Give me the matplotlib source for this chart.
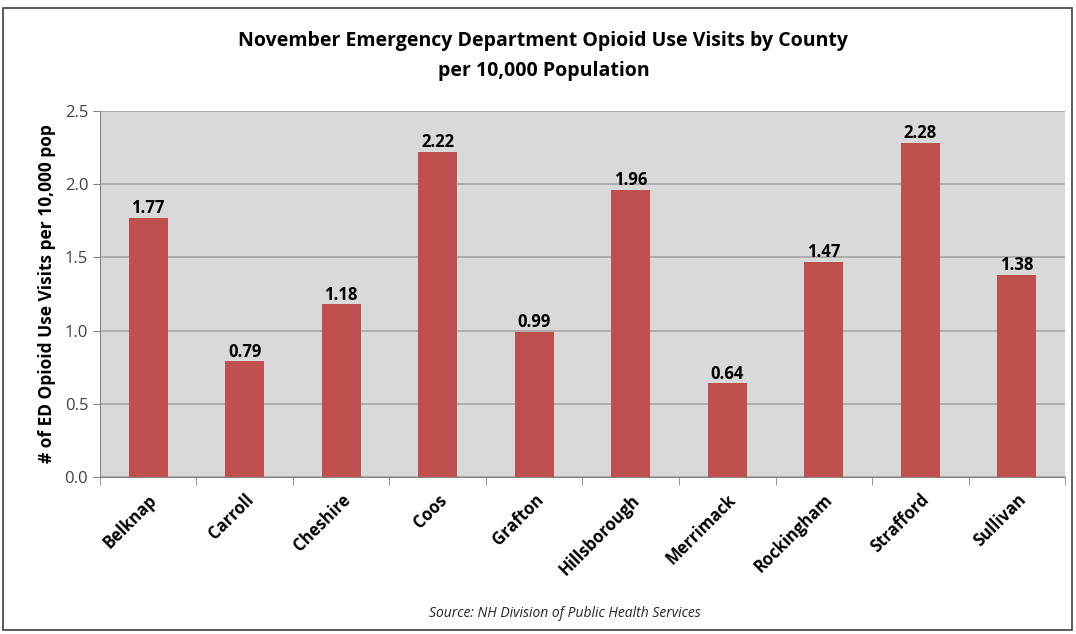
import matplotlib
matplotlib.use("Agg")
import matplotlib.pyplot as plt
import matplotlib.patches as pat
import numpy as np

counties = ["Belknap", "Carroll", "Cheshire", "Coos", "Grafton",
            "Hillsborough", "Merrimack", "Rockingham", "Strafford", "Sullivan"]
rates = [1.77, 0.79, 1.18, 2.22, 0.99, 1.96, 0.64, 1.47, 2.28, 1.38]
yticks = [0.0, 0.5, 1.0, 1.5, 2.0, 2.5]

barColor = "#C0504D"
plt.rcParams['font.family'] = ['Open Sans', 'DejaVu Sans']

fig = plt.figure(figsize=(10.76, 6.34), dpi=100)
ax = fig.add_axes([0.0929, 0.2476, 0.8969, 0.5773])

# outer frame like the pasted chart
fig.patches.append(pat.Rectangle((0.003, 0.006), 0.993, 0.981, transform=fig.transFigure,
                                 fill=False, edgecolor="#404040", linewidth=1.2))

x = np.arange(len(counties))
ax.set_facecolor("#D9D9D9")
ax.bar(x, rates, width=0.4, color=barColor, zorder=3)
for xi, v in zip(x, rates):
    ax.text(xi, v + 0.005, f"{v:.2f}", ha="center", va="bottom",
            fontsize=12, fontweight="bold", zorder=4)

ax.set_xlim(-0.5, len(counties) - 0.5)
ax.set_ylim(0, 2.5)
ax.set_yticks(yticks)
ax.set_yticklabels([f"{t:.1f}" for t in yticks], fontsize=12, color="#404040")
ax.yaxis.grid(True, color="#A6A6A6", linewidth=1.2, zorder=1)
ax.set_axisbelow(True)

ax.set_xticks(x)
ax.set_xticklabels(counties, rotation=45, ha="right", rotation_mode="anchor",
                   fontsize=12, fontweight="bold")
ax.set_xticks(np.arange(-0.5, len(counties)), minor=True)
ax.tick_params(axis="x", which="major", length=0, pad=10)
ax.tick_params(axis="x", which="minor", length=6, color="#868686")
ax.tick_params(axis="y", length=5, color="#868686")

for side in ["top", "right"]:
    ax.spines[side].set_visible(False)
for side in ["left", "bottom"]:
    ax.spines[side].set_color("#868686")

ax.set_ylabel("# of ED Opioid Use Visits per 10,000 pop", fontsize=12.5,
              fontweight="bold", labelpad=6)

fig.text(0.505, 0.935, "November Emergency Department Opioid Use Visits by County",
         ha="center", va="center", fontsize=14, fontweight="bold")
fig.text(0.505, 0.888, "per 10,000 Population", ha="center", va="center",
         fontsize=14, fontweight="bold")
fig.text(0.525, 0.033, "Source: NH Division of Public Health Services",
         ha="center", va="center", fontsize=10, style="italic", color="#262626")

fig.savefig("out.png", dpi=100)
